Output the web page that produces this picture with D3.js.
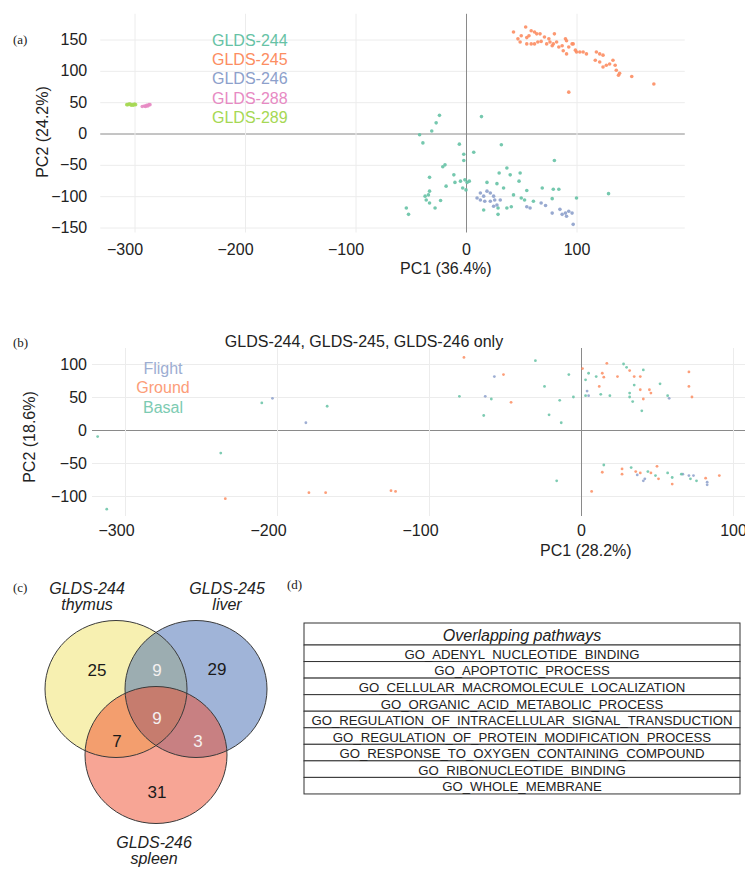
<!DOCTYPE html>
<html><head><meta charset="utf-8">
<script src="https://cdn.jsdelivr.net/npm/d3@7"></script>
<style>
body{margin:0;background:#fff;}
text{font-family:"Liberation Sans",Arial,Helvetica,sans-serif;}
</style></head>
<body>
<svg id="c" width="745" height="873"></svg>
<script>
// ---------- Panel (a) data : PC1, PC2 ----------
const glds244 = [[-24,29],[-27,17],[-31,4],[-42,-2],[-39,-15],[14,27],[-6,-17],[-2,-33],[7,-30],[-2,-43],[32,-18],[-19,-50],[-21,-53],[-33,-70],[-11,-66],[-5,-76],[-1,-74],[1,-78],[3,-76],[-3,-87],[0,-90],[-10,-78],[-18,-84],[-33,-92],[-34,-98],[-37,-100],[-36,-106],[-33,-111],[-28,-119],[-23,-107],[-54,-119],[-52,-129],[19,-78],[28,-80],[30,-63],[37,-55],[40,-66],[49,-63],[48,-76],[34,-87],[43,-98],[55,-91],[69,-87],[79,-89],[84,-89],[80,-43],[100,-103],[129,-96],[50,-103],[53,-106],[37,-119],[29,-119],[16,-122],[29,-129],[41,-117],[78,-104],[61,-108]];
const glds245 = [[43,162],[54,170],[59,164],[62,162],[64,159],[67,159],[57,156],[47,151],[49,146],[55,143],[59,143],[62,143],[65,146],[68,147],[71,154],[73,143],[76,146],[78,140],[79,143],[80,159],[82,146],[84,138],[87,140],[88,132],[90,151],[91,127],[93,138],[96,143],[100,130],[103,130],[106,130],[118,130],[121,127],[124,125],[117,117],[121,114],[124,106],[127,109],[133,117],[135,109],[136,101],[139,96],[138,93],[150,91],[170,79],[93,66],[97,143],[75,151],[55,153],[50,156],[91,148],[109,127],[99,133],[130,111]];
const glds246 = [[10,-103],[13,-95],[16,-100],[19,-92],[22,-95],[25,-100],[26,-106],[13,-106],[22,-108],[28,-114],[25,-116],[17,-108],[31,-106],[55,-117],[58,-119],[68,-111],[72,-115],[78,-127],[85,-121],[87,-129],[90,-127],[91,-132],[93,-124],[96,-127],[97,-145]];
const glds288 = [[-293,43],[-291,44],[-289,45],[-287,46],[-286,46],[-290,43],[-288,44]];
const glds289 = [[-306,46],[-304,47],[-302,46],[-300,47],[-299,46],[-303,45],[-301,45],[-305,47],[-307,46]];
const seriesA = ["GLDS-244","GLDS-245","GLDS-246","GLDS-288","GLDS-289"];
const colorsA = ["#66c2a5","#fc8d62","#8da0cb","#e78ac3","#a6d854"];
const ticksAx = [-300,-200,-100,0,100];
const ticksAy = [-150,-100,-50,0,50,100,150];

// ---------- Panel (b) data ----------
const flight = [[-203,48],[-181,11],[-57,81],[-63,51],[4,59],[5,52],[58,48],[37,-68],[41,-77],[42,-74],[67,-67],[71,-69],[74,-69],[83,-79],[83,-83]];
const ground = [[-234,-104],[-179,-95],[-168,-95],[-125,-92],[-122,-93],[-77,110],[-51,84],[-46,42],[1,93],[12,66],[14,86],[15,80],[17,101],[24,81],[32,90],[35,81],[39,81],[39,61],[41,47],[45,61],[46,56],[71,88],[71,66],[73,50],[7,-93],[14,-64],[27,-59],[27,-67],[36,-63],[39,-65],[46,-65],[50,-55],[51,-74],[60,-82],[82,-73],[91,-69]];
const basal = [[-318,-10],[-312,-120],[-237,-35],[-210,41],[-167,36],[-30,105],[-80,51],[-59,47],[-64,22],[-24,66],[-21,23],[-14,45],[-13,11],[-8,84],[-5,50],[3,76],[5,86],[3,52],[10,81],[13,54],[19,52],[28,100],[30,95],[41,91],[35,68],[32,56],[32,50],[34,43],[40,29],[52,70],[57,52],[-16,-77],[15,-53],[33,-57],[44,-63],[49,-69],[57,-65],[60,-72],[66,-67],[72,-74],[76,-77]];
const seriesB = ["Flight","Ground","Basal"];
const colorsB = ["#8da0cb","#fc8d62","#66c2a5"];
const ticksBx = [-300,-200,-100,0,100];
const ticksBy = [-100,-50,0,50,100];

// ---------- Panel (c) data ----------
const vennSets = ["GLDS-244","GLDS-245","GLDS-246"];
const vennTissues = ["thymus","liver","spleen"];
const vennColors = ["#f0e264","#4169b1","#ef4b2b"];
const vennRegions = ["A","AB","B","ABC","AC","BC","C"];
const vennCounts = [25,9,29,9,7,3,31];

// ---------- Panel (d) data ----------
const tableHeader = "Overlapping pathways";
const pathways = ["GO_ADENYL_NUCLEOTIDE_BINDING","GO_APOPTOTIC_PROCESS","GO_CELLULAR_MACROMOLECULE_LOCALIZATION","GO_ORGANIC_ACID_METABOLIC_PROCESS","GO_REGULATION_OF_INTRACELLULAR_SIGNAL_TRANSDUCTION","GO_REGULATION_OF_PROTEIN_MODIFICATION_PROCESS","GO_RESPONSE_TO_OXYGEN_CONTAINING_COMPOUND","GO_RIBONUCLEOTIDE_BINDING","GO_WHOLE_MEMBRANE"];

const svg = d3.select("#c");
const FS = 16;
const txt = "#222";
const gridC = "#ececec";
const zeroC = "#8a8a8a";

function panelLetter(s, x, y){
  svg.append("text").attr("x",x).attr("y",y).text(s)
    .style("font-family","'Liberation Serif','DejaVu Serif',serif").style("font-size","13px").attr("fill","#222");
}

// ================= Panel (a) =================
{
  const xA = d3.scaleLinear().domain([-300,100]).range([134.5,576.5]);
  const yA = d3.scaleLinear().domain([-150,150]).range([227.5,39.5]);
  const xl = xA(-331), xr = xA(198), yt = yA(191), yb = yA(-158);
  const g = svg.append("g");
  const ay = g.append("g").attr("transform",`translate(${xl},0)`)
    .call(d3.axisLeft(yA).tickValues(ticksAy).tickSize(-(xr-xl)).tickPadding(13));
  ay.select(".domain").remove();
  ay.selectAll("line").attr("stroke",d=>d===0?zeroC:gridC).attr("stroke-width",1);
  ay.selectAll("text").style("font-size",FS+"px").attr("fill",txt);
  const ax = g.append("g").attr("transform",`translate(0,${yb})`)
    .call(d3.axisBottom(xA).tickValues(ticksAx).tickSize(-(yb-yt)).tickPadding(11));
  ax.select(".domain").remove();
  ax.selectAll("line").attr("stroke",d=>d===0?zeroC:gridC).attr("stroke-width",1);
  ax.selectAll("text").style("font-size",FS+"px").attr("fill",txt).attr("dx",d=>d<0?-10:0);
  ay.selectAll(".tick").filter(d=>d===0).raise();
  const data = [glds244,glds245,glds246,glds288,glds289];
  data.forEach((arr,i)=>{
    g.append("g").selectAll("circle").data(arr).enter().append("circle")
      .attr("cx",d=>xA(d[0])).attr("cy",d=>yA(d[1])).attr("r",1.8)
      .attr("fill",colorsA[i]).attr("opacity",0.9);
  });
  seriesA.forEach((s,i)=>{
    g.append("text").attr("x",212).attr("y",40+i*19.3).attr("dy","0.35em")
      .style("font-size",FS+"px").attr("fill",colorsA[i]).text(s);
  });
  g.append("text").attr("x",400).attr("y",268).attr("dy","0.35em").style("font-size",FS+"px").attr("fill",txt).text("PC1 (36.4%)");
  g.append("text").attr("transform","translate(42,132) rotate(-90)").attr("text-anchor","middle").attr("dy","0.35em")
    .style("font-size",FS+"px").attr("fill",txt).text("PC2 (24.2%)");
  panelLetter("(a)",13,44);
}

// ================= Panel (b) =================
{
  const xB = d3.scaleLinear().domain([-300,100]).range([125,733]);
  const yB = d3.scaleLinear().domain([-100,100]).range([496,364]);
  const xl = 92, xr = 745, yt = 348, yb = 516;
  const g = svg.append("g");
  const ay = g.append("g").attr("transform",`translate(${xl},0)`)
    .call(d3.axisLeft(yB).tickValues(ticksBy).tickSize(-(xr-xl)).tickPadding(5));
  ay.select(".domain").remove();
  ay.selectAll("line").attr("stroke",d=>d===0?zeroC:gridC);
  ay.selectAll("text").style("font-size",FS+"px").attr("fill",txt);
  const ax = g.append("g").attr("transform",`translate(0,${yb})`)
    .call(d3.axisBottom(xB).tickValues(ticksBx).tickSize(-(yb-yt)).tickPadding(9));
  ax.select(".domain").remove();
  ax.selectAll("line").attr("stroke",d=>d===0?zeroC:gridC);
  ax.selectAll("text").style("font-size",FS+"px").attr("fill",txt).attr("dx",d=>d<0?-9:0);
  ay.selectAll(".tick").filter(d=>d===0).raise();
  [flight,ground,basal].forEach((arr,i)=>{
    g.append("g").selectAll("circle").data(arr).enter().append("circle")
      .attr("cx",d=>xB(d[0])).attr("cy",d=>yB(d[1])).attr("r",1.4)
      .attr("fill",colorsB[i]).attr("opacity",0.85);
  });
  seriesB.forEach((s,i)=>{
    g.append("text").attr("x",163).attr("y",368+i*19.5).attr("dy","0.35em").attr("text-anchor","middle")
      .style("font-size",FS+"px").attr("fill",colorsB[i]).attr("opacity",0.85).text(s);
  });
  g.append("text").attr("x",364).attr("y",341).attr("dy","0.35em").attr("text-anchor","middle")
    .style("font-size",FS+"px").attr("fill",txt).text("GLDS-244, GLDS-245, GLDS-246 only");
  g.append("text").attr("x",540).attr("y",550).attr("dy","0.35em").style("font-size",FS+"px").attr("fill",txt).text("PC1 (28.2%)");
  g.append("text").attr("transform","translate(29,437) rotate(-90)").attr("text-anchor","middle").attr("dy","0.35em")
    .style("font-size",FS+"px").attr("fill",txt).text("PC2 (18.6%)");
  panelLetter("(b)",13,347);
}

// ================= Panel (c) Venn =================
{
  const g = svg.append("g");
  const centers = [[116,689],[196,689],[156,755]];
  const rx = 71, ry = 68.5;
  centers.forEach((c,i)=>{
    g.append("ellipse").attr("cx",c[0]).attr("cy",c[1]).attr("rx",rx).attr("ry",ry)
      .attr("fill",vennColors[i]).attr("fill-opacity",0.5);
  });
  centers.forEach((c,i)=>{
    g.append("ellipse").attr("cx",c[0]).attr("cy",c[1]).attr("rx",rx).attr("ry",ry)
      .attr("fill","none").attr("stroke","#3a3a3a").attr("stroke-width",1);
  });
  const regionPos = {A:[97,670],AB:[157,670],B:[217,669],ABC:[157,718],AC:[117,741],BC:[198,741],C:[157,792]};
  const lightRegions = new Set(["AB","ABC","BC"]);
  vennRegions.forEach((r,i)=>{
    g.append("text").attr("x",regionPos[r][0]).attr("y",regionPos[r][1]).attr("dy","0.35em").attr("text-anchor","middle")
      .style("font-size","17px").attr("fill",lightRegions.has(r)?"#f4f0f0":"#1a1a1a").text(vennCounts[i]);
  });
  const labelPos = [[87,588],[227,588],[154,842]];
  vennSets.forEach((s,i)=>{
    g.append("text").attr("x",labelPos[i][0]).attr("y",labelPos[i][1]).attr("dy","0.35em").attr("text-anchor","middle")
      .style("font-size","16px").style("font-style","italic").attr("fill",txt).text(s);
    g.append("text").attr("x",labelPos[i][0]).attr("y",labelPos[i][1]+16).attr("dy","0.35em").attr("text-anchor","middle")
      .style("font-size","16px").style("font-style","italic").attr("fill",txt).text(vennTissues[i]);
  });
  panelLetter("(c)",13,592);
  panelLetter("(d)",287,589);
}

// ================= Panel (d) Table =================
{
  const g = svg.append("g");
  const rows = [tableHeader].concat(pathways);
  const x0 = 304, x1 = 740, top = 623, hh = 22, rh = 16.55;
  const rowY = rows.map((d,i)=> i===0 ? top : top + hh + (i-1)*rh);
  const rowH = rows.map((d,i)=> i===0 ? hh : rh);
  g.selectAll("rect").data(rows).enter().append("rect")
    .attr("x",x0).attr("y",(d,i)=>rowY[i]).attr("width",x1-x0).attr("height",(d,i)=>rowH[i])
    .attr("fill","#fff").attr("stroke","#333").attr("stroke-width",1);
  const cx = (x0+x1)/2;
  g.selectAll("text.row").data(rows).enter().append("text").attr("class","row")
    .attr("x",cx).attr("y",(d,i)=>rowY[i]+rowH[i]/2+1)
    .attr("text-anchor","middle").attr("dy","0.35em")
    .style("font-size",(d,i)=>i===0?"16px":"13.2px").style("font-style",(d,i)=>i===0?"italic":"normal")
    .attr("fill","#222").text(d=>d);
}
</script>
</body></html>
